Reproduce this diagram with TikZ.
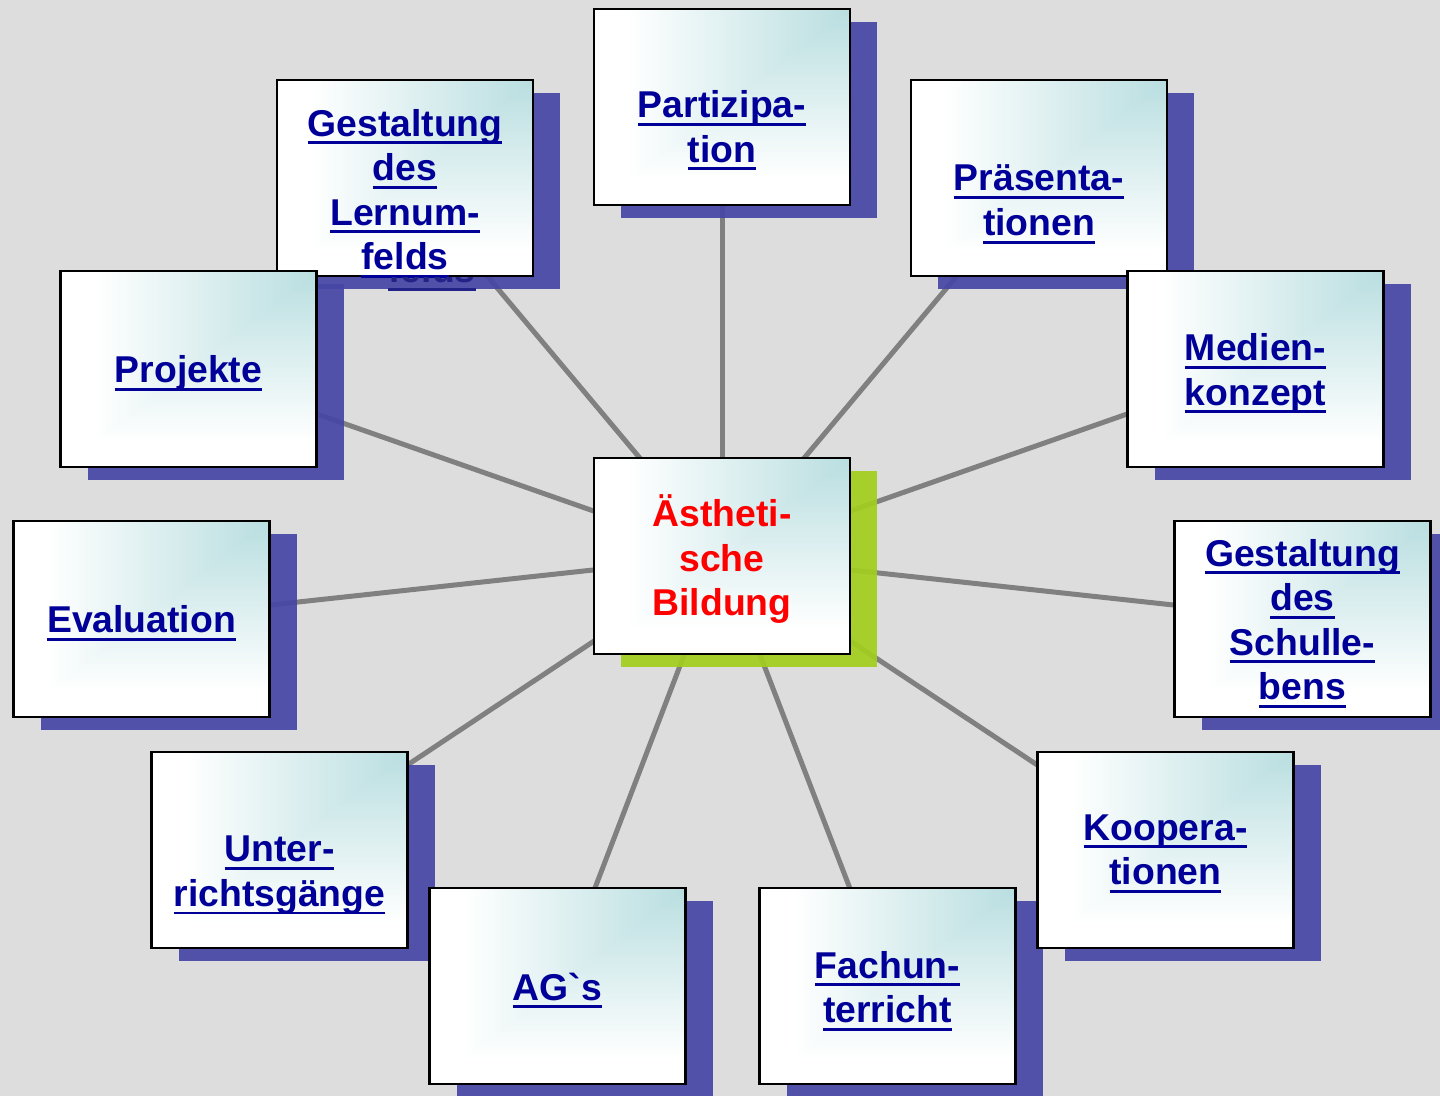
\documentclass[tikz,border=0pt]{standalone}
\usepackage{fontspec}
\setmainfont{Liberation Sans}[Ligatures=TeXOff]
\usetikzlibrary{shadows}
\definecolor{bggray}{RGB}{221,221,221}
\definecolor{linegray}{RGB}{128,128,128}
\definecolor{shblue}{RGB}{70,70,165}
\definecolor{shgreen}{RGB}{162,206,30}
\definecolor{txtblue}{RGB}{0,0,153}
\definecolor{ghostblue}{RGB}{35,35,135}
\pgfdeclarefunctionalshading{cornershade}{\pgfpoint{-50bp}{-50bp}}{\pgfpoint{50bp}{50bp}}{}{
  25 exch sub 50 div exch 25 exch sub 50 div
  2 copy lt {exch} if pop
  1.15 mul dup 1 gt {pop 1} if dup 0 lt {pop 0} if
  dup 0.2745 mul 0.7255 add
  exch dup 0.1294 mul 0.8706 add
  exch 0.1216 mul 0.8784 add
}
\newsavebox\ulbox
\newcommand\myul[1]{\sbox\ulbox{#1}\rlap{\rule[-6pt]{\wd\ulbox}{2.2pt}}\usebox\ulbox}
\newcommand\lstrut{\rule[-7pt]{0pt}{26pt}}
\pgfdeclarelayer{bglayer}
\pgfdeclarelayer{linelayer}
\pgfsetlayers{bglayer,linelayer,main}
\begin{document}
\begin{tikzpicture}[x=0.75pt,y=-0.75pt,
  boxnode/.style={draw=black, line width=1.8pt, shading=cornershade, minimum width=192pt, minimum height=147pt, inner sep=0pt},
  blueshadow/.style={drop shadow={shadow xshift=20.25pt, shadow yshift=-9.75pt, fill=shblue, opacity=0.92}},
  greenshadow/.style={drop shadow={shadow xshift=20.25pt, shadow yshift=-9.75pt, fill=shgreen, opacity=0.92}},
  lbl/.style={align=center, text=txtblue, font=\bfseries\fontsize{28pt}{33.4pt}\selectfont, inner sep=0pt},
  corelbl/.style={lbl, text=red},
  conn/.style={draw=linegray, line width=3.75pt}]
\useasboundingbox (0,0) rectangle (1440,1096);
\begin{pgfonlayer}{bglayer}
  \fill[bggray] (0,0) rectangle (1440,1096);
\end{pgfonlayer}

\node[boxnode,blueshadow] (lern) at (405,178) {};
\node[lbl] (lernT) at (405,194) {\lstrut\myul{Gestaltung}\\\lstrut\myul{des}\\\lstrut\myul{Lernum-}\\\lstrut\myul{felds}};
\begin{scope}
  \clip (300,277.5) rectangle (560,290);
  \node[lbl, text=ghostblue] (lernG) at (432,274) {\lstrut\myul{felds}};
\end{scope}

\node[boxnode,blueshadow] (partiz) at (722,107) {};
\node[lbl] (partizT) at (722,131) {\lstrut\myul{Partizipa-}\\\lstrut\myul{tion}};

\node[boxnode,blueshadow] (praes) at (1039,178) {};
\node[lbl] (praesT) at (1039,205) {\lstrut\myul{Präsenta-}\\\lstrut\myul{tionen}};

\node[boxnode,blueshadow] (proj) at (188.5,369) {};
\node[lbl] (projT) at (188.5,374) {\lstrut\myul{Projekte}};

\node[boxnode,blueshadow] (medien) at (1255.5,369) {};
\node[lbl] (medienT) at (1255.5,374) {\lstrut\myul{Medien-}\\\lstrut\myul{konzept}};

\node[boxnode,blueshadow] (eval) at (141.5,619) {};
\node[lbl] (evalT) at (141.5,624) {\lstrut\myul{Evaluation}};

\node[boxnode,greenshadow] (core) at (722,556) {};
\node[corelbl] (coreT) at (722,560) {\lstrut Ästheti-\\\lstrut sche\\\lstrut Bildung};

\node[boxnode,blueshadow] (schul) at (1302.5,619) {};
\node[lbl] (schulT) at (1302.5,624) {\lstrut\myul{Gestaltung}\\\lstrut\myul{des}\\\lstrut\myul{Schulle-}\\\lstrut\myul{bens}};

\node[boxnode,blueshadow] (unter) at (279.5,850) {};
\node[lbl] (unterT) at (279.5,876) {\lstrut\myul{Unter-}\\\lstrut\myul{richtsgänge}};

\node[boxnode,blueshadow] (ags) at (557.5,986) {};
\node[lbl] (agsT) at (557.5,991) {\lstrut\myul{AG`s}};

\node[boxnode,blueshadow] (fach) at (887.5,986) {};
\node[lbl] (fachT) at (887.5,991.5) {\lstrut\myul{Fachun-}\\\lstrut\myul{terricht}};

\node[boxnode,blueshadow] (koop) at (1165.5,850) {};
\node[lbl] (koopT) at (1165.5,854.5) {\lstrut\myul{Koopera-}\\\lstrut\myul{tionen}};

\begin{pgfonlayer}{linelayer}
  \foreach \n in {lern,partiz,praes,proj,medien,eval,schul,unter,ags,fach,koop}
    \draw[conn] (core.center) -- (\n.center);
\end{pgfonlayer}
\end{tikzpicture}
\end{document}
